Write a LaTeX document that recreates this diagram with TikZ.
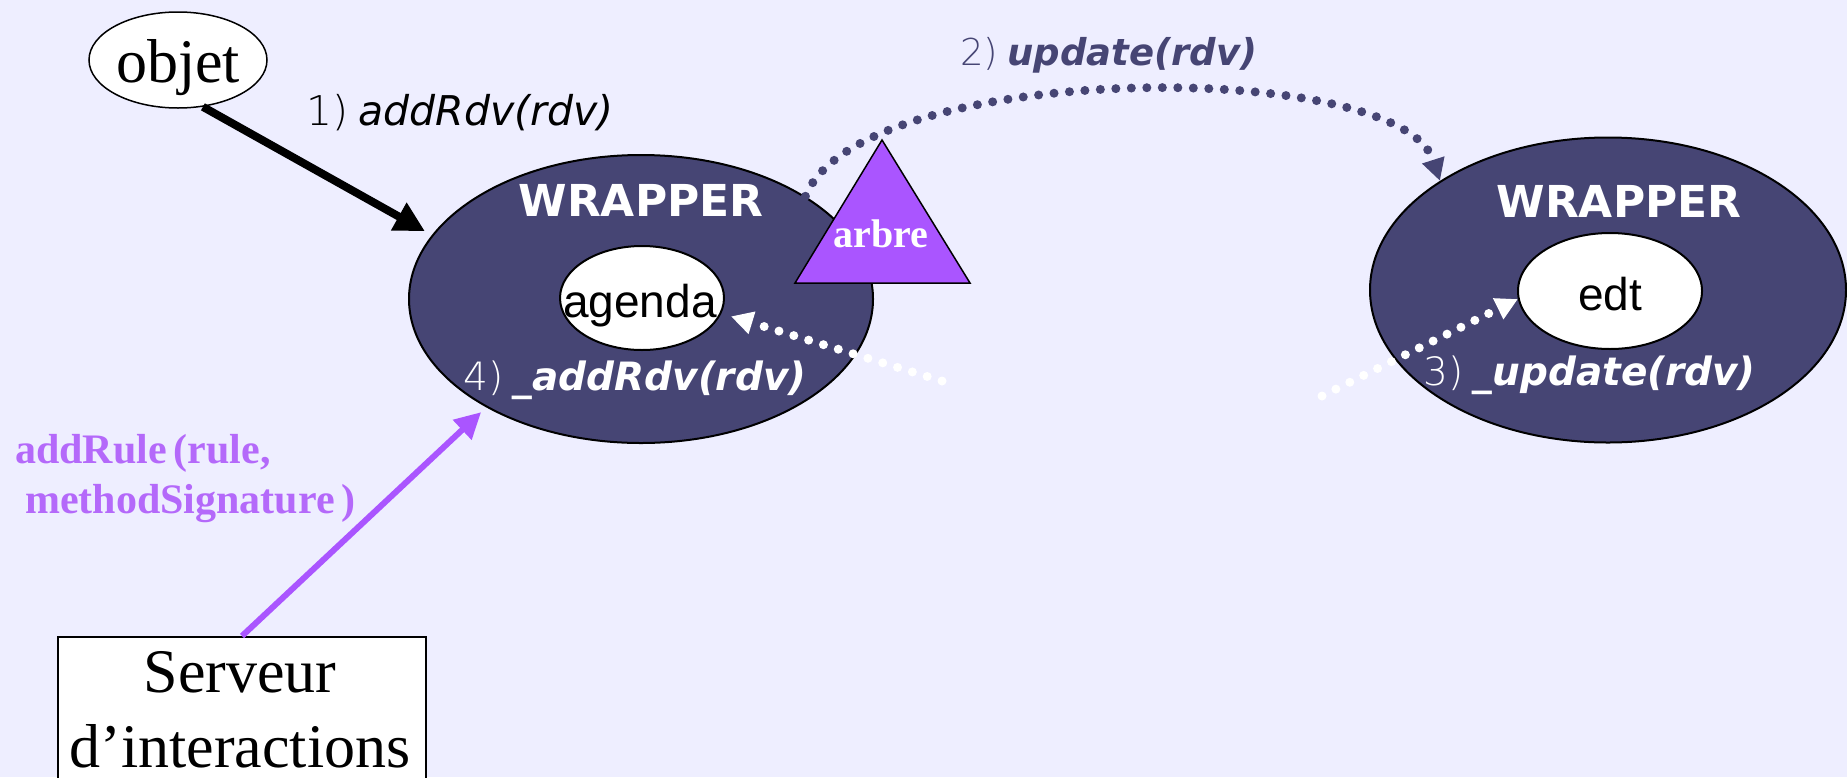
\documentclass[tikz,border=0pt]{standalone}
\usepackage{fontspec}
\setmainfont{Liberation Serif}
\newfontfamily\arialfont{Liberation Sans}
\newfontfamily\verdfont{DejaVu Sans}[BoldFont={DejaVu Sans Bold},ItalicFont={DejaVu Sans Oblique},BoldItalicFont={DejaVu Sans Bold Oblique}]
\newfontfamily\thinfont{DejaVu Sans ExtraLight}
\usetikzlibrary{shapes.geometric,arrows.meta}
\definecolor{bgcol}{RGB}{238,238,255}
\definecolor{slate}{RGB}{70,69,116}
\definecolor{mauve}{RGB}{170,85,255}
\definecolor{lilac}{RGB}{180,105,250}
\newcommand{\fs}[1]{\fontsize{#1}{#1}\selectfont}
\begin{document}
\begin{tikzpicture}[x=1pt,y=-1pt,
  wrapper/.style={ellipse, draw=black, line width=2pt, fill=slate, inner sep=0pt},
  core/.style={ellipse, draw=black, line width=2pt, fill=white, inner sep=0pt},
  txt/.style={inner sep=0pt, anchor=base},
  txtw/.style={inner sep=0pt, anchor=base west},
  dots/.style={line width=9pt, line cap=round, dash pattern=on 0pt off 15.5pt},
  callhead/.style={-{Triangle[length=22pt,width=22pt]}},
]
% page and background
\useasboundingbox (0,0) rectangle (1847,777);
\clip (0,0) rectangle (1847,777);
\fill[bgcol] (0,0) rectangle (1847,777);

% calling object
\node[core, line width=1.5pt, minimum width=178pt, minimum height=96pt] (objet) at (178,60) {};
\node[txt] (objettxt) at (178,82) {\fs{62}objet};

% the two wrappers and the objects they hold
\node[wrapper, minimum width=464pt, minimum height=288pt] (wl) at (641,299) {};
\node[wrapper, minimum width=476pt, minimum height=305pt] (wr) at (1608,290) {};
\node[core, minimum width=164pt, minimum height=104pt] (agenda) at (642,298) {};
\node[core, minimum width=184pt, minimum height=116pt] (edt) at (1610,291) {};

\node[txt, text=white] (wltxt) at (641,216) {\verdfont\bfseries\fs{44}WRAPPER};
\node[txt, text=white] (wrtxt) at (1619,217) {\verdfont\bfseries\fs{44}WRAPPER};
\node[txt] (agendatxt) at (640,317) {\arialfont\fs{46}agenda};
\node[txt] (edttxt) at (1610,310) {\arialfont\fs{46}edt};

% rule tree
\draw[black, line width=1.5pt, fill=mauve] (882,140) -- (970,283) -- (795,283) -- cycle;
\node[txt, text=white] (arbre) at (881,247) {\fs{40}\bfseries arbre};

% interaction server
\node[draw=black, line width=1.5pt, fill=white, minimum width=368pt, minimum height=200pt, anchor=north] (srv) at (242,636) {};
\node[txt] (srv1) at (240,692) {\fs{62}Serveur};
\node[txt] (srv2) at (240,767) {\fs{62}d’interactions};

% free ends of the internal calls
\coordinate (fromtree) at (942,381);
\coordinate (toedt) at (1322,396);

% 1) call on the left wrapper
\draw[line width=8pt, -{Triangle[length=30pt,width=30pt]}, shorten >=8pt] (objet.-62) -- (wl.163);
\node[txtw] (lbl1) at (306,125) {\fs{41}{\thinfont 1)} {\verdfont\itshape addRdv(rdv)}};

% 2) propagation to the other wrapper
\draw[slate, dots, callhead] (wl.32) .. controls (860,60) and (1400,56) .. (wr.147);
\node[txtw, text=slate] (lbl2) at (960,65) {\fs{37}{\thinfont 2)} {\verdfont\bfseries\itshape update(rdv)}};

% 3) and 4) internal calls
\draw[white, dots, callhead] (toedt) -- (edt.185);
\node[txtw, text=white] (lbl3) at (1423,385) {\fs{39}{\thinfont 3)} {\verdfont\bfseries\itshape \_update(rdv)}};
\draw[white, dots, callhead, shorten >=10pt] (fromtree) -- (agenda.-11);
\node[txtw, text=white] (lbl4) at (463,390) {\fs{39}{\thinfont 4)} {\verdfont\bfseries\itshape \_addRdv(rdv)}};

% rule registration
\draw[mauve, line width=6pt, -{Triangle[length=26pt,width=26pt]}, shorten >=7pt] (srv.north) -- (wl.215);
\node[txtw, text=lilac] (rule1) at (15,463) {\fs{42}\bfseries addRule\,(rule,};
\node[txtw, text=lilac] (rule2) at (25,513) {\fs{42}\bfseries methodSignature\,)};
\end{tikzpicture}
\end{document}
